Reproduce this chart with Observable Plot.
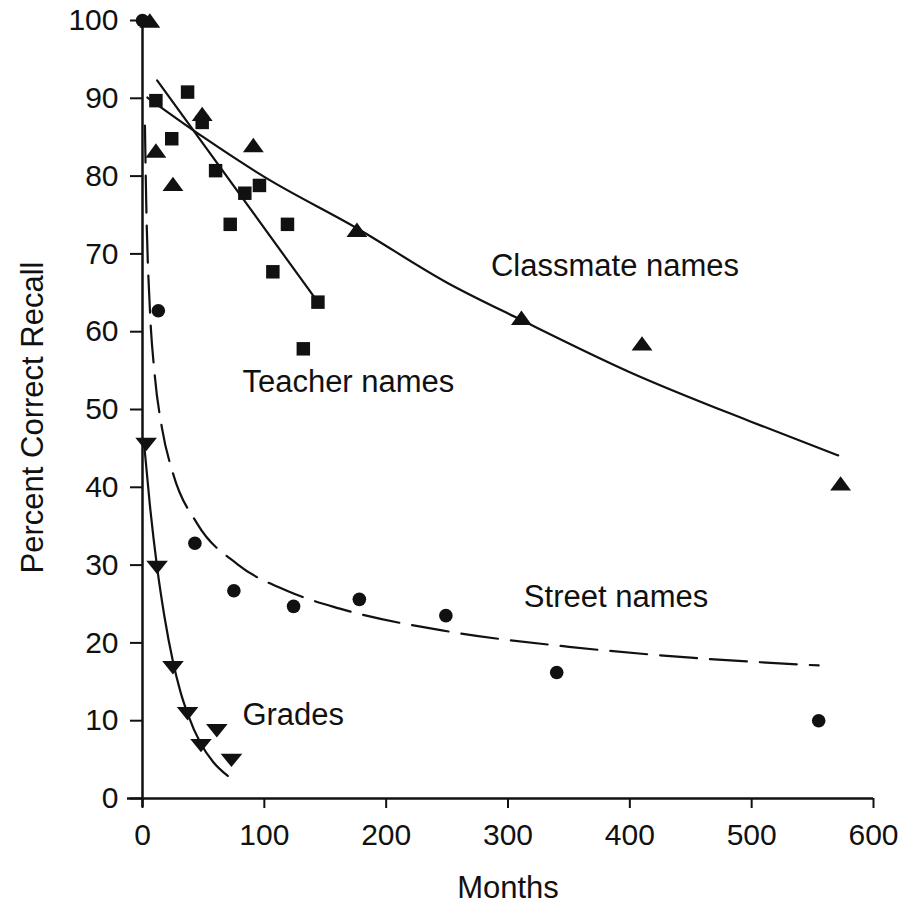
<!DOCTYPE html>
<html><head><meta charset="utf-8">
<script src="https://cdn.jsdelivr.net/npm/d3@7"></script>
<script src="https://cdn.jsdelivr.net/npm/@observablehq/plot@0.6"></script>
<style>html,body{margin:0;padding:0;background:#fff;}</style>
</head><body><div id="chart"></div>
<script>
// Observed points
const classmateMonths = [6, 11, 25, 49, 91, 176, 311, 410, 573];
const classmateValues = [100, 83.3, 79, 88, 84, 73.1, 61.8, 58.5, 40.5];
const teacherMonths = [11, 24, 37, 49, 60, 72, 84, 96, 107, 119, 132, 144];
const teacherValues = [89.7, 84.8, 90.8, 86.9, 80.7, 73.8, 77.8, 78.8, 67.7, 73.8, 57.8, 63.8];
const streetMonths = [0, 13, 43, 75, 124, 178, 249, 340, 555];
const streetValues = [100, 62.7, 32.8, 26.7, 24.7, 25.6, 23.5, 16.2, 10.0];
const gradeMonths = [3, 12, 25, 37, 48, 61, 73];
const gradeValues = [45.5, 29.7, 16.8, 10.9, 6.8, 8.7, 4.9];

// Fitted curves
const classmateFitMonths = [4, 50, 100, 176, 250, 311, 400, 500, 571];
const classmateFitValues = [90.1, 85.0, 79.9, 73.3, 66.3, 61.5, 54.8, 48.4, 44.1];
const teacherFitMonths = [12, 144];
const teacherFitValues = [92.3, 63.8];
const streetFitMonths = [2, 3, 6, 10, 16, 25, 45, 78, 120, 162, 250, 350, 450, 555];
const streetFitValues = [86.5, 77.1, 63.1, 54.5, 47.6, 41.8, 35.3, 30.1, 26.6, 24.4, 21.5, 19.5, 18.1, 17.1];
const gradeFitMonths = [1, 6, 12, 18, 25, 31, 37, 48, 58, 70];
const gradeFitValues = [46.1, 37.8, 29.7, 23.4, 17.6, 13.8, 10.9, 7.0, 4.7, 2.9];

// Labels
const labelTexts = ["Classmate names", "Teacher names", "Street names", "Grades"];
const labelMonths = [286, 82, 313, 82];
const labelValues = [67.1, 52.2, 24.6, 9.4];

const xTicks = [0, 100, 200, 300, 400, 500, 600];
const yTicks = [0, 10, 20, 30, 40, 50, 60, 70, 80, 90, 100];

const zip = (xs, ys) => xs.map((x, i) => ({x, y: ys[i]}));
const labels = labelTexts.map((t, i) => ({t, x: labelMonths[i], y: labelValues[i]}));

const triUp = {draw(ctx, size) { const r = Math.sqrt(size / Math.PI); const w = 1.45 * r, h = r; ctx.moveTo(0, -h); ctx.lineTo(w, h); ctx.lineTo(-w, h); ctx.closePath(); }};
const triDown = {draw(ctx, size) { const r = Math.sqrt(size / Math.PI); const w = 1.5 * r, h = 0.93 * r; ctx.moveTo(-w, -h); ctx.lineTo(w, -h); ctx.lineTo(0, h); ctx.closePath(); }};

const ink = "#111";
const chart = Plot.plot({
  width: 900, height: 903,
  marginLeft: 142, marginRight: 27, marginTop: 20, marginBottom: 105,
  x: {domain: [0, 600]},
  y: {domain: [0, 100]},
  style: {fontFamily: "'Liberation Sans', Arial, sans-serif", fontSize: "30px", background: "white", color: ink},
  marks: [
    Plot.axisY({ticks: yTicks, tickSize: 12, tickPadding: 12, label: null, fontSize: 30, strokeWidth: 2}),
    Plot.axisX({ticks: xTicks, tickSize: 10, tickPadding: 15, label: null, fontSize: 30, strokeWidth: 2}),
    Plot.ruleX([0], {insetBottom: -9, strokeWidth: 2.5, stroke: ink}),
    Plot.ruleY([0], {insetLeft: -15, strokeWidth: 2.5, stroke: ink}),
    Plot.line(zip(classmateFitMonths, classmateFitValues), {x: "x", y: "y", stroke: ink, strokeWidth: 2.2, curve: "monotone-x"}),
    Plot.line(zip(teacherFitMonths, teacherFitValues), {x: "x", y: "y", stroke: ink, strokeWidth: 2.2}),
    Plot.line(zip(streetFitMonths, streetFitValues), {x: "x", y: "y", stroke: ink, strokeWidth: 2.2, strokeDasharray: "37,13", curve: "monotone-x"}),
    Plot.line(zip(gradeFitMonths, gradeFitValues), {x: "x", y: "y", stroke: ink, strokeWidth: 2.2, curve: "monotone-x"}),
    Plot.dot(zip(teacherMonths, teacherValues), {x: "x", y: "y", symbol: "square", r: 7.6, fill: ink, stroke: "none"}),
    Plot.dot(zip(classmateMonths, classmateValues), {x: "x", y: "y", symbol: triUp, r: 7.2, fill: ink, stroke: "none"}),
    Plot.dot(zip(streetMonths, streetValues), {x: "x", y: "y", symbol: "circle", r: 6.8, fill: ink, stroke: "none"}),
    Plot.dot(zip(gradeMonths, gradeValues), {x: "x", y: "y", symbol: triDown, r: 7.2, fill: ink, stroke: "none"}),
    Plot.text(labels, {x: "x", y: "y", text: "t", textAnchor: "start", lineAnchor: "bottom", fontSize: 31, fill: ink}),
    Plot.text(["Months"], {frameAnchor: "bottom", textAnchor: "middle", lineAnchor: "bottom", dy: 99, fontSize: 31, fill: ink}),
    Plot.text(["Percent Correct Recall"], {frameAnchor: "left", textAnchor: "middle", rotate: -90, lineAnchor: "bottom", dx: -100, dy: 8, fontSize: 31, fill: ink})
  ]
});
document.getElementById("chart").appendChild(chart);
</script>
</body></html>
